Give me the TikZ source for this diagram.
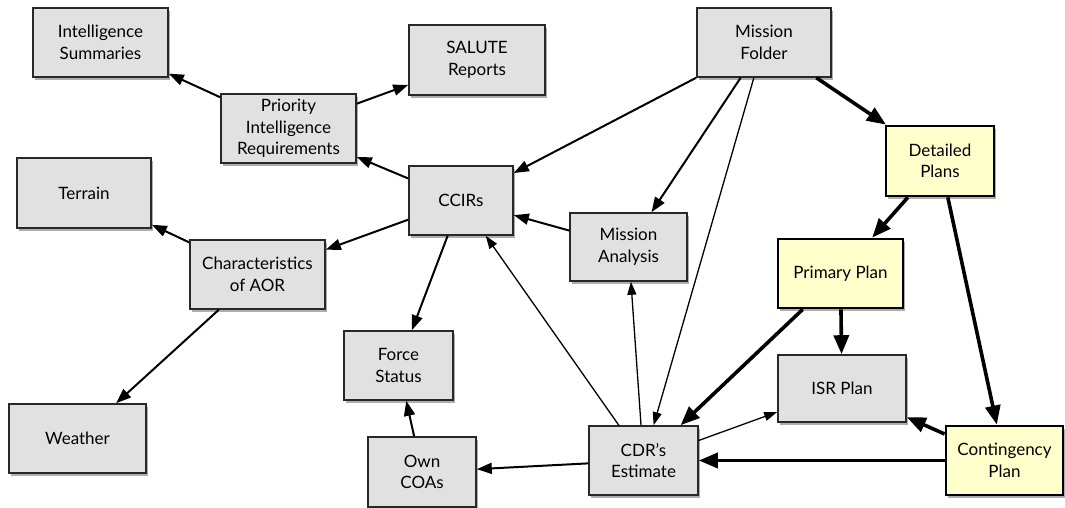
\documentclass[tikz,border=0pt]{standalone}
\usepackage{fontspec}
\setmainfont{Lato}
\usetikzlibrary{arrows.meta,shadows}

\definecolor{boxgray}{RGB}{225,225,225}
\definecolor{planyellow}{RGB}{255,255,204}
\definecolor{edgegray}{RGB}{40,40,40}

\tikzset{
  concept/.style={draw=edgegray, line width=1.6pt, fill=boxgray, rectangle,
    inner sep=0pt, align=center,
    font=\fontsize{17}{21.5}\selectfont,
    drop shadow={shadow xshift=2pt, shadow yshift=-3pt, fill=black!70, opacity=0.45}},
  plan/.style={concept, draw=black, line width=2.8pt, fill=planyellow},
  thinlink/.style={line width=1.3pt, -{Triangle[length=13pt,width=9pt]}},
  link/.style={line width=2pt, -{Triangle[length=15pt,width=11pt]}},
  heavylink/.style={line width=3.6pt, -{Triangle[length=19pt,width=15pt]}}
}

\begin{document}
\begin{tikzpicture}[x=1pt,y=-1pt]
\useasboundingbox (0,0) rectangle (1065,508);

% concept boxes
\node[concept, minimum width=135pt, minimum height=69pt] (intel)   at (100.5,42.5) {Intelligence\\Summaries};
\node[concept, minimum width=136pt, minimum height=70pt] (salute)  at (477,60)     {SALUTE\\Reports};
\node[concept, minimum width=135pt, minimum height=69pt] (pir)     at (288.5,128.5) {Priority\\Intelligence\\Requirements};
\node[concept, minimum width=134pt, minimum height=70pt] (terrain) at (84,193)     {Terrain};
\node[concept, minimum width=104pt, minimum height=69pt] (ccir)    at (461,200.5)  {CCIRs};
\node[concept, minimum width=135pt, minimum height=69pt] (aor)     at (257.5,274.5) {Characteristics\\of AOR};
\node[concept, minimum width=134pt, minimum height=69pt] (folder)  at (764,42.5)   {Mission\\Folder};
\node[concept, minimum width=117pt, minimum height=68pt] (analysis) at (628.5,247) {Mission\\Analysis};
\node[concept, minimum width=109pt, minimum height=69pt] (force)   at (398.5,365.5) {Force\\Status};
\node[concept, minimum width=137pt, minimum height=69pt] (weather) at (77.5,438.5) {Weather};
\node[concept, minimum width=108pt, minimum height=70pt] (coas)    at (422,472)    {Own\\COAs};
\node[concept, minimum width=128pt, minimum height=67pt] (isr)     at (842,388.5)  {ISR Plan};
\node[concept, minimum width=109pt, minimum height=69pt] (cdr)     at (643.5,460.5) {CDR's\\Estimate};

% plan boxes
\node[plan, minimum width=108pt, minimum height=70pt] (detailed)    at (940,161)    {Detailed\\Plans};
\node[plan, minimum width=125pt, minimum height=69pt] (primary)     at (840.5,273.5) {Primary Plan};
\node[plan, minimum width=117pt, minimum height=69pt] (contingency) at (1004.5,460.5) {Contingency\\Plan};

% intelligence side
\draw[link] (pir) -- (intel);
\draw[link] (pir) -- (salute);
\draw[link] (ccir) -- (pir);
\draw[link] (ccir) -- (aor);
\draw[link] (aor) -- (terrain);
\draw[link] (aor) -- (weather);
\draw[link] (ccir) -- (force);

% mission folder
\draw[link] (folder) -- (ccir);
\draw[link] (folder) -- (analysis);
\draw[thinlink] (folder) -- (cdr);
\draw[heavylink] (folder) -- (detailed);

% estimate
\draw[link] (analysis) -- (ccir);
\draw[thinlink] (cdr) -- (ccir);
\draw[thinlink] (cdr) -- (analysis);
\draw[link] (cdr) -- (coas);
\draw[link] (coas) -- (force);
\draw[thinlink] (cdr) -- (isr);

% plans
\draw[heavylink] (detailed) -- (primary);
\draw[heavylink] (detailed) -- (contingency);
\draw[heavylink] (primary) -- (cdr);
\draw[heavylink] (primary) -- (isr);
\draw[heavylink] (contingency) -- (isr);
\draw[heavylink] (contingency) -- (cdr);
\end{tikzpicture}
\end{document}
